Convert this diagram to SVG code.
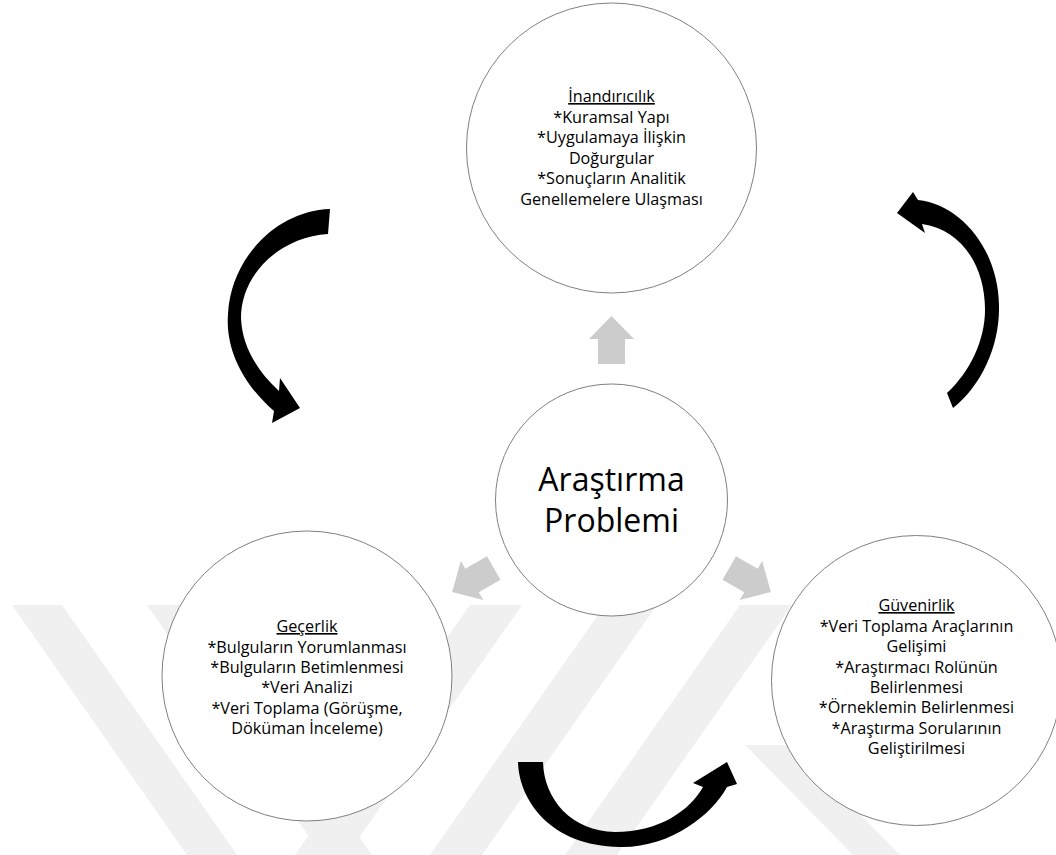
<svg xmlns="http://www.w3.org/2000/svg" width="1056" height="855" viewBox="0 0 1056 855">
  <style>
    .wm { fill: #f0f0f0; }
    .node { fill: #ffffff; stroke: #808080; stroke-width: 1; }
    .t { font-family: "Open Sans", Lato, "Liberation Sans", sans-serif; font-size: 16.2px; fill: #000; text-anchor: middle; }
    .h { text-decoration: underline; }
    .big { font-family: "Open Sans", Lato, "Liberation Sans", sans-serif; font-size: 32px; fill: #000; text-anchor: middle; }
    .garrow { fill: #cccccc; }
    .barrow { fill: #000000; }
  </style>
  <defs>
    <path id="gray-arrow" d="M 611.5,316 L 634,339 L 625,339 L 625,364 L 598,364 L 598,339 L 589,339 Z"/>
    <clipPath id="wmclip"><rect x="0" y="605" width="1056" height="250"/></clipPath>
  </defs>
  <rect width="1056" height="855" fill="#ffffff"/>

  <g id="watermark" clip-path="url(#wmclip)">
    <polygon class="wm" points="12,605 62,605 237,855 187,855"/>
    <polygon class="wm" points="147,605 197,605 372,855 322,855"/>
    <polygon class="wm" points="470,605 522,605 347,855 295,855"/>
    <polygon class="wm" points="605,605 657,605 482,855 430,855"/>
    <polygon class="wm" points="740,605 792,605 617,855 565,855"/>
    <polygon class="wm" points="745,745 792,745 900,855 853,855"/>
  </g>

  <g id="connectors">
    <use href="#gray-arrow" class="garrow"/>
    <use href="#gray-arrow" class="garrow" transform="rotate(-120 611.5 500)"/>
    <use href="#gray-arrow" class="garrow" transform="rotate(120 611.5 500)"/>
    <path class="barrow" d="M 330,209 C 276,211 231,258 228,314 C 225,352 246,387 274,411 L 272,423 L 300,408 L 280,378 L 279,391 C 256,370 242,345 241,318 C 241,274 280,237 328,234 Z"/>
    <path class="barrow" d="M 897,213 L 913,192 L 918,200 C 962,205 998,250 999,305 C 1000,345 982,385 953,408 L 947,393 C 970,372 985,340 985,310 C 985,264 960,229 922,224 L 925,233 Z"/>
    <path class="barrow" d="M 518,762 C 519,800 550,846 620,847 C 670,848 712,815 727,787 L 737,784 L 727,762 L 693,783 L 703,787 C 690,810 660,832 615,832 C 572,831 544,800 543,762 Z"/>
  </g>

  <g id="node-top">
    <circle class="node" cx="611.5" cy="148" r="145"/>
    <text class="t h" x="611.5" y="102">İnandırıcılık</text>
    <text class="t" x="611.5" y="122.5">*Kuramsal Yapı</text>
    <text class="t" x="611.5" y="143">*Uygulamaya İlişkin</text>
    <text class="t" x="611.5" y="163.5">Doğurgular</text>
    <text class="t" x="611.5" y="184">*Sonuçların Analitik</text>
    <text class="t" x="611.5" y="204.5">Genellemelere Ulaşması</text>
  </g>

  <g id="node-center">
    <circle class="node" cx="611.5" cy="500" r="116"/>
    <text class="big" x="611.5" y="491">Araştırma</text>
    <text class="big" x="611.5" y="532">Problemi</text>
  </g>

  <g id="node-left">
    <circle class="node" cx="307" cy="676" r="145"/>
    <text class="t h" x="307" y="632">Geçerlik</text>
    <text class="t" x="307" y="652.5">*Bulguların Yorumlanması</text>
    <text class="t" x="307" y="673">*Bulguların Betimlenmesi</text>
    <text class="t" x="307" y="693">*Veri Analizi</text>
    <text class="t" x="307" y="713.5">*Veri Toplama (Görüşme,</text>
    <text class="t" x="307" y="733.5">Döküman İnceleme)</text>
  </g>

  <g id="node-right">
    <circle class="node" cx="916.5" cy="680.5" r="145"/>
    <text class="t h" x="916.5" y="611">Güvenirlik</text>
    <text class="t" x="916.5" y="631.5">*Veri Toplama Araçlarının</text>
    <text class="t" x="916.5" y="652">Gelişimi</text>
    <text class="t" x="916.5" y="672.5">*Araştırmacı Rolünün</text>
    <text class="t" x="916.5" y="693">Belirlenmesi</text>
    <text class="t" x="916.5" y="713">*Örneklemin Belirlenmesi</text>
    <text class="t" x="916.5" y="733.5">*Araştırma Sorularının</text>
    <text class="t" x="916.5" y="753.5">Geliştirilmesi</text>
  </g>
</svg>
